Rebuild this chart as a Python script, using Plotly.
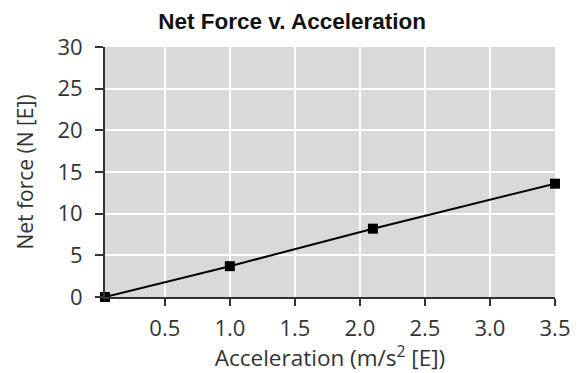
import plotly.graph_objects as go

accel = [0.04, 1.0, 2.1, 3.5]
force = [0.0, 3.7, 8.2, 13.6]
x_ticks = [0.5, 1.0, 1.5, 2.0, 2.5, 3.0, 3.5]
x_tick_labels = ["0.5", "1.0", "1.5", "2.0", "2.5", "3.0", "3.5"]
y_ticks = [0, 5, 10, 15, 20, 25, 30]

fig = go.Figure()
fig.add_trace(go.Scatter(
    x=accel, y=force, mode="lines+markers",
    line=dict(color="black", width=2),
    marker=dict(symbol="square", size=10, color="black"),
    cliponaxis=False, showlegend=False,
))

font_body = "Open Sans, Lato, sans-serif"
fig.update_layout(
    width=582, height=373,
    margin=dict(l=105, r=27, t=47, b=76),
    paper_bgcolor="white", plot_bgcolor="#d9d9d9",
    title=dict(text="<b>Net Force v. Acceleration</b>", x=0.502, xanchor="center",
               xref="container", yref="container", y=1 - 21 / 373, yanchor="middle",
               font=dict(family="Liberation Sans, Arial, sans-serif", size=22.5, color="#111")),
    xaxis=dict(range=[0.04, 3.5], tickvals=x_ticks, ticktext=x_tick_labels,
               showgrid=True, gridcolor="white", gridwidth=2,
               showline=True, linecolor="#333", linewidth=2,
               ticks="outside", ticklen=7, tickcolor="#333", tickwidth=1.5,
               ticklabelstandoff=4,
               tickfont=dict(family=font_body, size=22, color="#333"),
               title=dict(text="Acceleration (m/s<sup>2</sup> [E])", standoff=2,
                          font=dict(family=font_body, size=22.5, color="#333")),
               zeroline=False, fixedrange=True),
    yaxis=dict(range=[0, 30], tickvals=y_ticks,
               showgrid=True, gridcolor="white", gridwidth=2,
               showline=True, linecolor="#333", linewidth=2,
               ticks="outside", ticklen=8, tickcolor="#333", tickwidth=1.5,
               ticklabelstandoff=8,
               tickfont=dict(family=font_body, size=22, color="#333"),
               title=dict(text="Net force (N [E])", standoff=18,
                          font=dict(family=font_body, size=21, color="#333")),
               zeroline=False, fixedrange=True),
)

fig.write_html("out.html", config={"displayModeBar": False},
               post_script="document.body.style.margin='0px';")
